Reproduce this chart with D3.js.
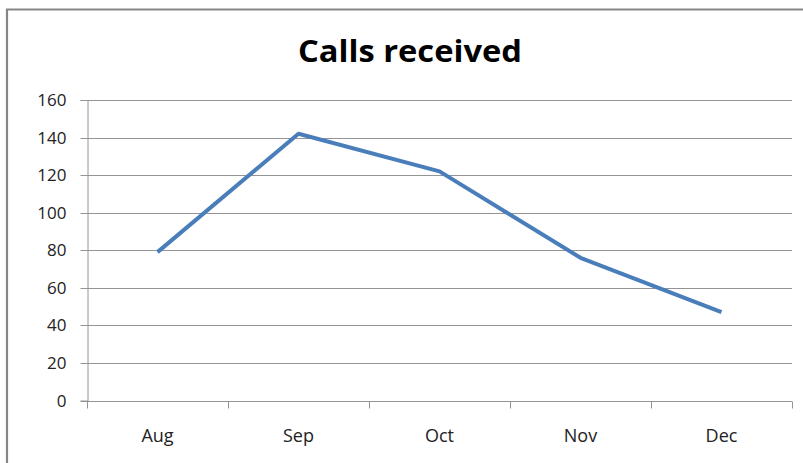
<!DOCTYPE html>
<html><head><meta charset="utf-8">
<script src="https://cdn.jsdelivr.net/npm/d3@7"></script>
<style>body{margin:0;background:#fff}svg{display:block}</style>
</head><body>
<script>
const categories = ["Aug","Sep","Oct","Nov","Dec"];
const calls = [79, 142, 122, 76, 47];
const yTicks = [0,20,40,60,80,100,120,140,160];
const title = "Calls received";

const W = 803, H = 463;
const svg = d3.select("body").append("svg").attr("width", W).attr("height", H);
svg.append("rect").attr("width", W).attr("height", H).attr("fill", "#fff");

// outer chart border (partially visible)
svg.append("path").attr("d", `M7,${H+2}V9.5H${W+2}`).attr("fill","none")
  .attr("stroke","#868686").attr("stroke-width",2.2);

const x0 = 87, x1 = 792, yTop = 100, yBot = 400.5;
const x = d3.scaleBand().domain(categories).range([x0, x1]);
const y = d3.scaleLinear().domain([0,160]).range([yBot, yTop]);

const font = "'Open Sans', 'Liberation Sans', sans-serif";
const gridCol = "#949494";

// gridlines
svg.append("g").selectAll("line").data(yTicks.filter(d=>d>0)).join("line")
  .attr("x1", x0).attr("x2", x1)
  .attr("y1", d=>Math.round(y(d))+0.5).attr("y2", d=>Math.round(y(d))+0.5)
  .attr("stroke",gridCol).attr("stroke-width",1);

// y axis
const yAxis = svg.append("g").attr("transform", `translate(${x0+0.5},0)`)
  .call(d3.axisLeft(y).tickValues(yTicks).tickSize(7).tickPadding(14));
yAxis.select(".domain").attr("stroke",gridCol);
yAxis.selectAll(".tick line").attr("stroke",gridCol);
yAxis.selectAll(".tick").attr("transform", d=>`translate(0,${Math.round(y(d))+0.5})`);
yAxis.selectAll("text").attr("font-family", font).attr("font-size", 17).attr("fill","#222");

// x axis
const xAxis = svg.append("g").attr("transform", `translate(0,${Math.round(yBot)+0.5})`)
  .call(d3.axisBottom(x).tickSize(0).tickPadding(28));
xAxis.select(".domain").attr("stroke",gridCol).attr("d", `M${x0},0H${x1}`);
xAxis.selectAll("text").attr("font-family", font).attr("font-size", 18).attr("fill","#222");
// category boundary ticks
const bounds = categories.map(c=>x(c)).concat([x1]);
xAxis.append("g").selectAll("line").data(bounds).join("line")
  .attr("x1", d=>Math.round(d)+0.5).attr("x2", d=>Math.round(d)+0.5)
  .attr("y1", 0).attr("y2", 7).attr("stroke",gridCol);

// line
const line = d3.line().x((d,i)=>x(categories[i]) + x.bandwidth()/2).y(d=>y(d));
svg.append("path").datum(calls).attr("d", line).attr("fill","none")
  .attr("stroke","#4a7ebb").attr("stroke-width",4).attr("stroke-linejoin","round");

// title
svg.append("text").attr("x", 410).attr("y", 62).attr("text-anchor","middle")
  .attr("font-family", font).attr("font-weight","bold").attr("font-size", 31)
  .attr("textLength", 224).attr("lengthAdjust","spacingAndGlyphs")
  .attr("fill","#000").text(title);
</script>
</body></html>
